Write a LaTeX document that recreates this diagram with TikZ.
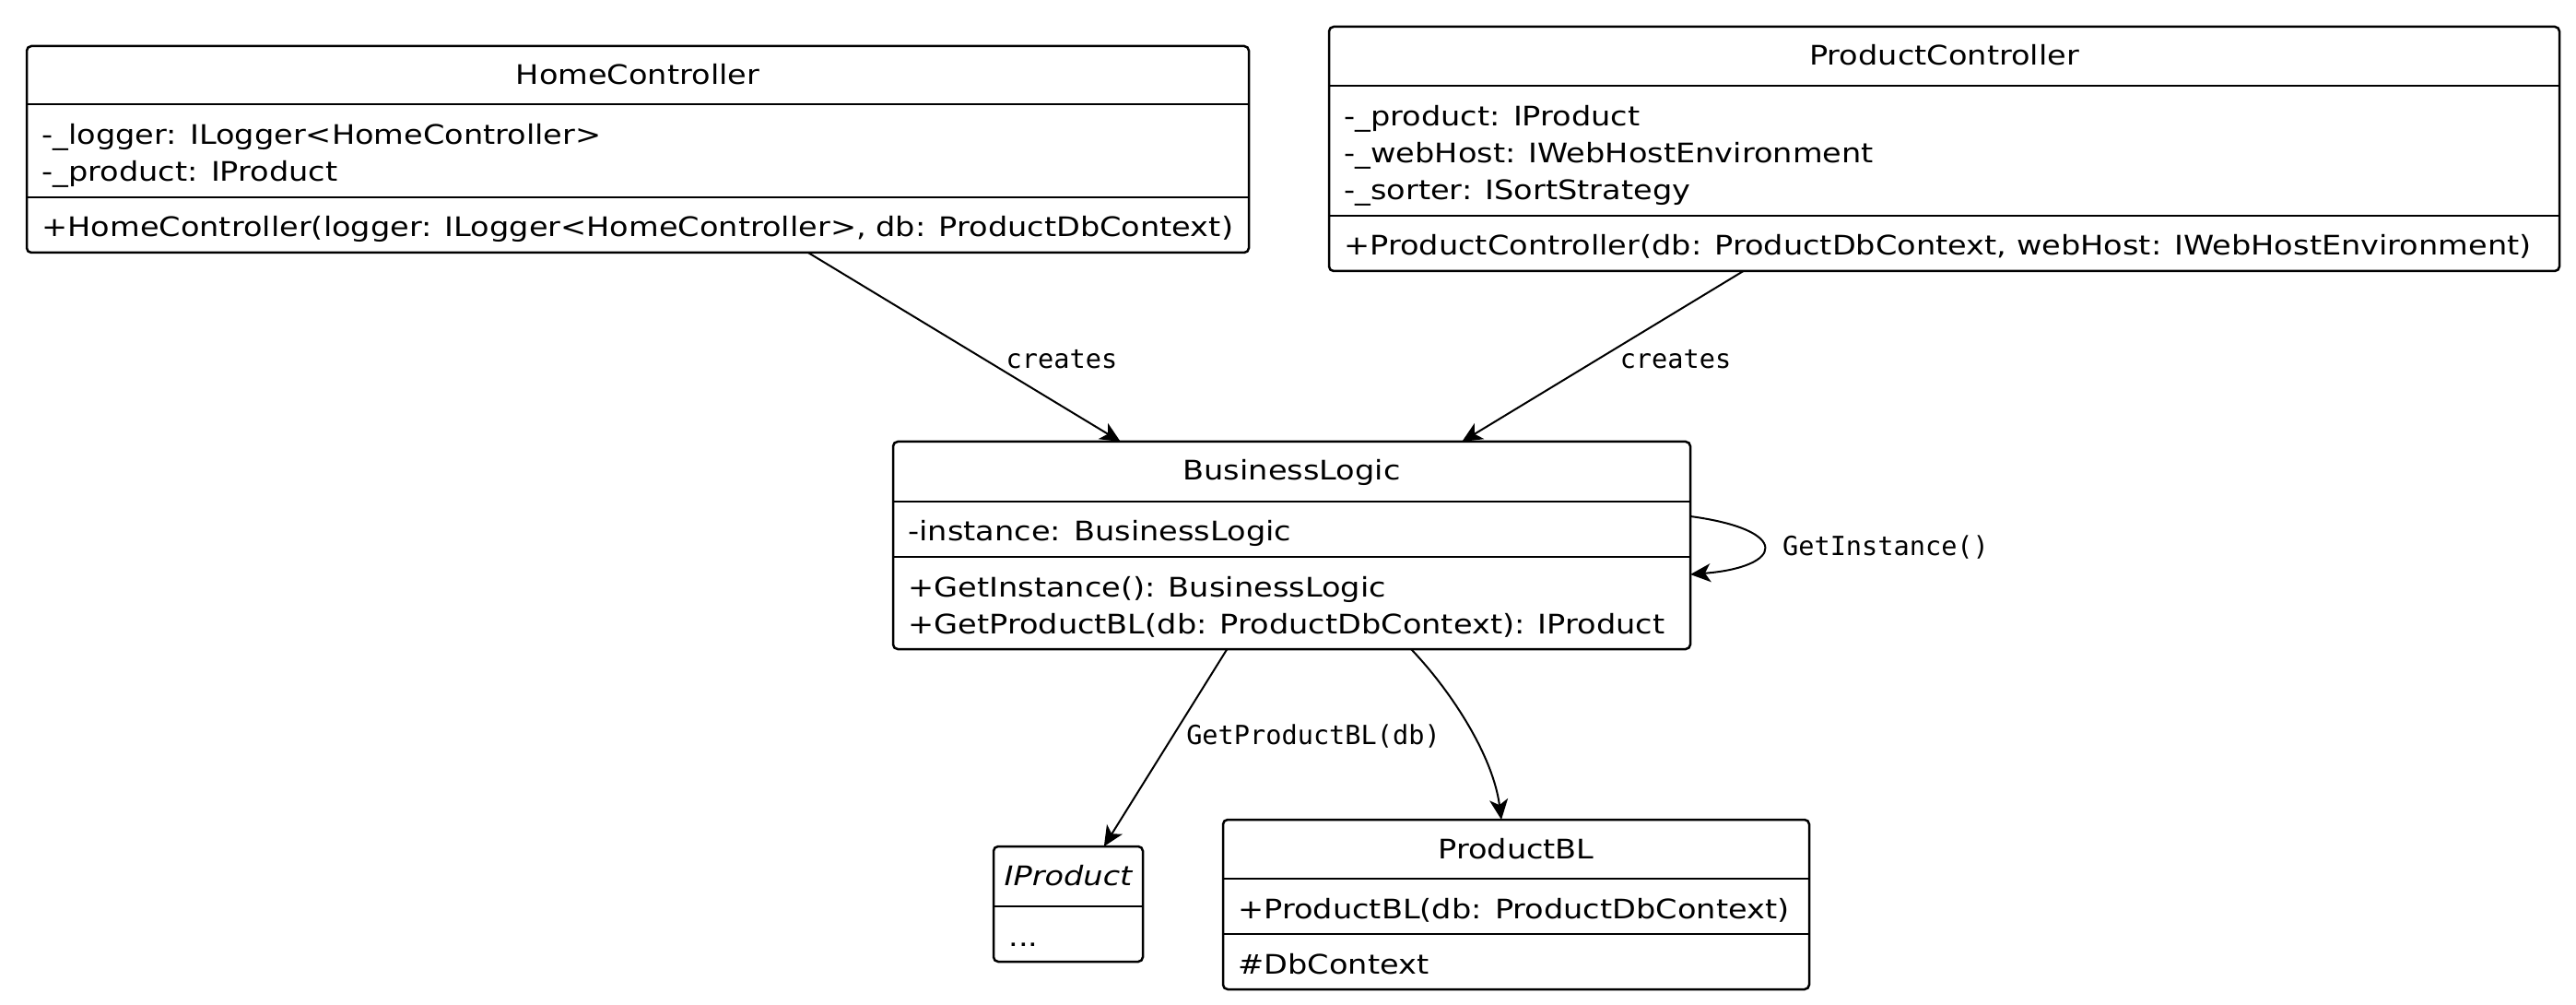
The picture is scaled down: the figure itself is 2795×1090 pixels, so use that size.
\documentclass[tikz,border=0pt]{standalone}
\usepackage{fontspec}
\setmainfont{DejaVu Sans}[FakeStretch=1.15]
\newfontfamily\lblfont{DejaVu Sans Mono}
\usetikzlibrary{arrows.meta,calc}
\begin{document}
\begin{tikzpicture}[x=0.5pt,y=-0.5pt,
  classbox/.style={draw, rectangle, line width=1.25pt, rounded corners=2.5pt, inner sep=0pt, outer sep=0pt, fill=white},
  sepline/.style={line width=1.25pt},
  txt/.style={anchor=base west, inner sep=0pt, font=\fontsize{14.6pt}{17pt}\selectfont},
  ttl/.style={anchor=base, inner sep=0pt, font=\fontsize{14.6pt}{17pt}\selectfont},
  lbl/.style={anchor=base, inner sep=0pt, font=\lblfont\fontsize{14.3pt}{17pt}\selectfont},
  arr/.style={line width=1pt, -{Stealth[length=11pt,width=10pt,inset=3pt]}}
]
\fill[white] (0,0) rectangle (2795,1090);
\useasboundingbox (0,0) rectangle (2795,1090);

% ---------- boxes ----------
\node[classbox, minimum width=663pt, minimum height=112pt] (home) at (692,162) {};
\node[classbox, minimum width=667.5pt, minimum height=132.5pt] (prodctrl) at (2109.5,161.5) {};
\node[classbox, minimum width=432.5pt, minimum height=112.5pt] (bl) at (1401.5,591.5) {};
\node[classbox, minimum width=81pt, minimum height=62.5pt] (iprod) at (1159,980.5) {};
\node[classbox, minimum width=318pt, minimum height=92pt] (pbl) at (1645,981) {};

% ---------- separators ----------
\draw[sepline] (home.west |- 0,113) -- (home.east |- 0,113);
\draw[sepline] (home.west |- 0,214) -- (home.east |- 0,214);
\draw[sepline] (prodctrl.west |- 0,93) -- (prodctrl.east |- 0,93);
\draw[sepline] (prodctrl.west |- 0,234) -- (prodctrl.east |- 0,234);
\draw[sepline] (bl.west |- 0,544) -- (bl.east |- 0,544);
\draw[sepline] (bl.west |- 0,604) -- (bl.east |- 0,604);
\draw[sepline] (iprod.west |- 0,983) -- (iprod.east |- 0,983);
\draw[sepline] (pbl.west |- 0,953) -- (pbl.east |- 0,953);
\draw[sepline] (pbl.west |- 0,1013) -- (pbl.east |- 0,1013);

% ---------- texts ----------
\node[ttl] (hT) at (692,92) {HomeController};
\node[txt] (hA1) at (45,157) {-\_logger: ILogger<HomeController>};
\node[txt] (hA2) at (45,197) {-\_product: IProduct};
\node[txt] (hM1) at (45,257) {+HomeController(logger: ILogger<HomeController>, db: ProductDbContext)};

\node[ttl] (pT) at (2109.5,71) {ProductController};
\node[txt] (pA1) at (1458,137) {-\_product: IProduct};
\node[txt] (pA2) at (1458,177) {-\_webHost: IWebHostEnvironment};
\node[txt] (pA3) at (1458,217) {-\_sorter: ISortStrategy};
\node[txt] (pM1) at (1458,277) {+ProductController(db: ProductDbContext, webHost: IWebHostEnvironment)};

\node[ttl] (bT) at (1401.5,521) {BusinessLogic};
\node[txt] (bA1) at (985,587) {-instance: BusinessLogic};
\node[txt] (bM1) at (985,647) {+GetInstance(): BusinessLogic};
\node[txt] (bM2) at (985,687) {+GetProductBL(db: ProductDbContext): IProduct};

\node[ttl] (iT) at (1159,960) {\itshape IProduct};
\node[txt] (iA1) at (1094,1026) {...};

\node[ttl] (qT) at (1645,931) {ProductBL};
\node[txt] (qM1) at (1343,996) {+ProductBL(db: ProductDbContext)};
\node[txt] (qA1) at (1343,1056) {\#DbContext};

% ---------- connectors ----------
\draw[arr] (home) -- (bl);
\draw[arr] (prodctrl) -- (bl);
\draw[arr] (bl) -- (iprod);
\draw[arr] ([xshift=64.75pt]bl.south) .. controls +(44,46) and +(-9,-69) .. ([xshift=-8pt]pbl.north);
\draw[arr] ([yshift=15.75pt]bl.east) .. controls +(111,15) and +(101,-8) .. ([yshift=-15.75pt]bl.east);

% ---------- labels ----------
\node[lbl] (l1) at (1152,400) {creates};
\node[lbl] (l2) at (1818,400) {creates};
\node[lbl] (l3) at (2046,603) {GetInstance()};
\node[lbl] (l4) at (1425,807) {GetProductBL(db)};
\end{tikzpicture}
\end{document}
